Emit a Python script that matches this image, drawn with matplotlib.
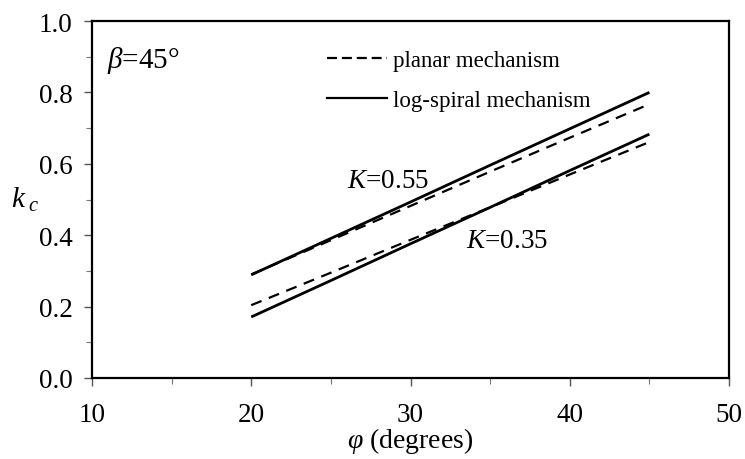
import matplotlib
matplotlib.use("Agg")
import matplotlib.pyplot as plt
from matplotlib.ticker import MultipleLocator
from matplotlib.lines import Line2D

plt.rcParams['font.family'] = ['Liberation Serif', 'DejaVu Serif']
plt.rcParams['mathtext.fontset'] = 'custom'
plt.rcParams['mathtext.rm'] = 'Liberation Serif'
plt.rcParams['mathtext.it'] = 'Liberation Serif:italic'

phi = [20, 25, 30, 35, 40, 45]
log_055 = [0.289, 0.391, 0.493, 0.596, 0.698, 0.800]
planar_055 = [0.290, 0.386, 0.482, 0.578, 0.673, 0.767]
log_035 = [0.171, 0.273, 0.376, 0.478, 0.581, 0.683]
planar_035 = [0.204, 0.295, 0.387, 0.478, 0.570, 0.661]

x_ticks = [10, 20, 30, 40, 50]
y_ticks = [0.0, 0.2, 0.4, 0.6, 0.8, 1.0]

fig = plt.figure(figsize=(7.45, 4.6), dpi=100)
ax = fig.add_axes([92/745, 1-379/460, (729-92)/745, (379-22)/460])

lw = 2.0
ax.plot(phi, log_055, color='black', lw=lw, solid_capstyle='butt')
ax.plot(phi, planar_055, color='black', lw=1.6, dashes=(5, 3.5))
ax.plot(phi, log_035, color='black', lw=lw, solid_capstyle='butt')
ax.plot(phi, planar_035, color='black', lw=1.6, dashes=(5, 3.5))

ax.set_xlim(10, 50)
ax.set_ylim(0, 1.0)
ax.set_xticks(x_ticks)
ax.set_yticks(y_ticks)
ax.set_xticklabels([str(v) for v in x_ticks])
ax.set_yticklabels([f"{v:.1f}" for v in y_ticks])
ax.xaxis.set_minor_locator(MultipleLocator(5))
ax.yaxis.set_minor_locator(MultipleLocator(0.1))
ax.tick_params(which='major', direction='out', length=6, width=1.0, labelsize=19.5, color='#555555')
ax.tick_params(which='minor', direction='out', length=4, width=0.8, color='#777777')
ax.tick_params(axis='x', which='major', pad=11)
ax.tick_params(axis='y', which='major', pad=8)
for s in ax.spines.values():
    s.set_linewidth(1.6)

ax.set_xlabel(r'$\varphi$ (degrees)', fontsize=20, labelpad=-1)
fig.text(25/745, 1-200/460, r'$k_{\ c}$', fontsize=21, ha='center', va='center')

ax.text(0.024, 0.893, r'$\beta$=45°', transform=ax.transAxes, fontsize=21, va='center')
ax.text(26.0, 0.552, r'$K$=0.55', fontsize=19.5, va='center')
ax.text(33.5, 0.384, r'$K$=0.35', fontsize=19.5, va='center')

handles = [Line2D([], [], color='black', lw=1.6, dashes=(4.5, 2.2)),
           Line2D([], [], color='black', lw=1.6)]
leg = ax.legend(handles, ['planar mechanism', 'log-spiral mechanism'],
                loc='upper left', bbox_to_anchor=(0.355, 0.945), frameon=False,
                fontsize=16.5, handlelength=2.6, handletextpad=0.25, labelspacing=0.85,
                borderaxespad=0)

fig.savefig('out.png', dpi=100)
